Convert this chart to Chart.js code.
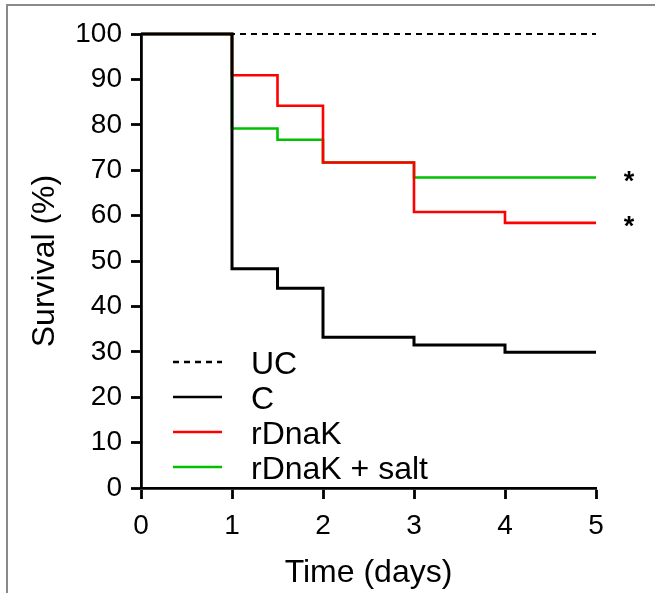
<!DOCTYPE html>
<html>
<head>
<meta charset="utf-8">
<script src="https://cdn.jsdelivr.net/npm/chart.js@4"></script>
<style>
  body { margin: 0; background: #fff; }
  canvas { display: block; }
</style>
</head>
<body>
<canvas id="survival" width="655" height="593"></canvas>
<script>
// survival data (time in days, survival in %)
var seriesNames = ['UC', 'C', 'rDnaK', 'rDnaK + salt'];
var ucTime = [0, 5];
var ucSurv = [100, 100];
var cTime = [0, 1, 1.5, 2, 3, 4, 5];
var cSurv = [100, 48.3, 44.0, 33.2, 31.5, 29.9, 29.9];
var rdTime = [0, 1, 1.5, 2, 3, 4, 5];
var rdSurv = [100, 90.9, 84.2, 71.7, 60.8, 58.4, 58.4];
var saltTime = [0, 1, 1.5, 2, 3, 5];
var saltSurv = [100, 79.2, 76.7, 71.7, 68.4, 68.4];
var xTicks = [0, 1, 2, 3, 4, 5];
var yTicks = [0, 10, 20, 30, 40, 50, 60, 70, 80, 90, 100];
var significant = ['rDnaK + salt', 'rDnaK'];

var FONT = "'Liberation Sans', Arial, sans-serif";

function pts(t, s) {
    return t.map((x, i) => ({ x: x, y: s[i] }));
}

var colors = ['#000000', '#000000', '#ff0000', '#00c000'];
var dashes = [[6, 5], [], [], []];

// gray frame of the figure panel
const framePlugin = {
    id: 'frame',
    beforeDraw(chart) {
        const c = chart.ctx;
        c.save();
        c.strokeStyle = '#8a8a8a';
        c.lineWidth = 2;
        c.beginPath();
        c.moveTo(7, chart.height);
        c.lineTo(7, 5);
        c.lineTo(chart.width, 5);
        c.stroke();
        c.restore();
    }
};

// legend inside the plot + asterisks at line ends
const extrasPlugin = {
    id: 'extras',
    afterDraw(chart) {
        const c = chart.ctx;
        const a = chart.chartArea;
        c.save();
        // legend
        c.font = '32px ' + FONT;
        c.textBaseline = 'middle';
        c.fillStyle = '#000';
        seriesNames.forEach((name, i) => {
            const y = a.top + 328 + i * 35;
            c.strokeStyle = colors[i];
            c.lineWidth = 2.4;
            c.setLineDash(dashes[i]);
            c.beginPath();
            c.moveTo(a.left + 32, y);
            c.lineTo(a.left + 81, y);
            c.stroke();
            c.setLineDash([]);
            c.fillText(name, a.left + 110, y + 3);
        });
        // significance marks
        c.font = 'bold 27px ' + FONT;
        c.textAlign = 'center';
        significant.forEach(name => {
            const ds = chart.data.datasets.find(d => d.label === name);
            const last = ds.data[ds.data.length - 1];
            const x = chart.scales.x.getPixelForValue(last.x) + 33;
            const y = chart.scales.y.getPixelForValue(last.y);
            c.fillText('*', x, y + 5);
        });
        c.restore();
    }
};

const ctx = document.getElementById('survival').getContext('2d');
new Chart(ctx, {
    type: 'line',
    data: {
        datasets: [
            { label: seriesNames[0], data: pts(ucTime, ucSurv), borderDash: dashes[0], borderWidth: 2, order: 2 },
            { label: seriesNames[1], data: pts(cTime, cSurv), borderWidth: 3, order: 1 },
            { label: seriesNames[2], data: pts(rdTime, rdSurv), order: 3 },
            { label: seriesNames[3], data: pts(saltTime, saltSurv), order: 4 }
        ].map((d, i) => Object.assign({
            borderColor: colors[i],
            borderWidth: 2.6,
            stepped: 'before',
            pointRadius: 0,
            fill: false,
            clip: false
        }, d))
    },
    options: {
        responsive: false,
        animation: false,
        layout: { padding: { left: 0, top: 34, right: 59, bottom: 0 } },
        plugins: {
            legend: { display: false },
            tooltip: { enabled: false }
        },
        scales: {
            x: {
                type: 'linear',
                min: 0,
                max: 5,
                afterBuildTicks: s => { s.ticks = xTicks.map(v => ({ value: v })); },
                afterFit: s => { s.height = 105; },
                grid: { drawOnChartArea: false, tickLength: 11, tickWidth: 2.8, color: '#000' },
                border: { display: true, width: 2.8, color: '#000' },
                ticks: { color: '#000', font: { family: FONT, size: 28 }, padding: 10, maxRotation: 0 },
                title: { display: true, text: 'Time (days)', color: '#000', font: { family: FONT, size: 32 }, padding: { top: 0, bottom: 1 } }
            },
            y: {
                min: 0,
                max: 100,
                afterBuildTicks: s => { s.ticks = yTicks.map(v => ({ value: v })); },
                afterFit: s => { s.width = 141; },
                grid: { drawOnChartArea: false, tickLength: 10, tickWidth: 2.8, color: '#000' },
                border: { display: true, width: 2.8, color: '#000' },
                ticks: { color: '#000', font: { family: FONT, size: 28 }, padding: 9 },
                title: { display: true, text: 'Survival (%)', color: '#000', font: { family: FONT, size: 32 }, padding: { top: 26, bottom: 0 } }
            }
        }
    },
    plugins: [framePlugin, extrasPlugin]
});
</script>
</body>
</html>
